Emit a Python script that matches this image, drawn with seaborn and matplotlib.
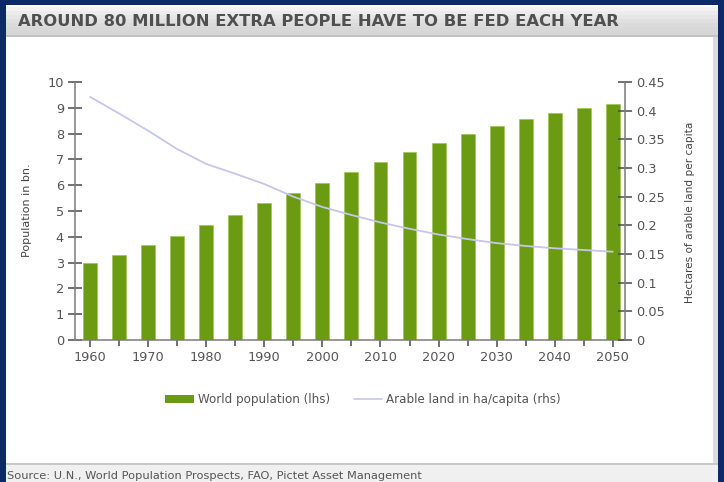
import matplotlib
matplotlib.use("Agg")
import matplotlib.pyplot as plt
import seaborn as sns
import numpy as np
import pandas as pd
from matplotlib.patches import Rectangle
from matplotlib.lines import Line2D
from matplotlib.ticker import FixedLocator

years = [1960, 1965, 1970, 1975, 1980, 1985, 1990, 1995, 2000, 2005,
         2010, 2015, 2020, 2025, 2030, 2035, 2040, 2045, 2050]
population_bn = [3.0, 3.3, 3.7, 4.05, 4.45, 4.85, 5.3, 5.7, 6.1, 6.5,
                 6.9, 7.3, 7.65, 8.0, 8.3, 8.55, 8.8, 9.0, 9.15]
arable_ha = [0.424, 0.395, 0.365, 0.333, 0.307, 0.290, 0.272, 0.250, 0.232, 0.218,
             0.205, 0.194, 0.184, 0.176, 0.169, 0.164, 0.160, 0.157, 0.154]
left_ticks = list(range(0, 11))
right_ticks = [0, 0.05, 0.1, 0.15, 0.2, 0.25, 0.3, 0.35, 0.4, 0.45]
right_labels = ["0", "0.05", "0.1", "0.15", "0.2", "0.25", "0.3", "0.35", "0.4", "0.45"]
x_labels = [1960, 1970, 1980, 1990, 2000, 2010, 2020, 2030, 2040, 2050]

title = "AROUND 80 MILLION EXTRA PEOPLE HAVE TO BE FED EACH YEAR"
source = "Source: U.N., World Population Prospects, FAO, Pictet Asset Management"

sns.set_theme(style="white")
plt.rcParams['font.family'] = ['DejaVu Sans']

W, H = 724, 482
fig = plt.figure(figsize=(W / 100, H / 100), dpi=100)
fig.patch.set_facecolor("white")

def frect(x0, y0, x1, y1, color, z=0):
    fig.add_artist(Rectangle((x0 / W, 1 - y1 / H), (x1 - x0) / W, (y1 - y0) / H,
                             transform=fig.transFigure, facecolor=color,
                             edgecolor="none", zorder=z))

navy = "#0b2a66"
frect(0, 0, W, H, navy, -5)
frect(6, 5, 718, H, "white", -4)
# title band (light gradient)
band_cols = ["#f2f2f2", "#ececec", "#e6e6e6", "#e0e0e0", "#dbdbdb", "#d8d8d8", "#d6d6d6"]
y0 = 7
step = 28 / len(band_cols)
for i, c in enumerate(band_cols):
    frect(6, y0 + i * step, 718, y0 + (i + 1) * step + 0.5, c, -3)
frect(6, 35, 718, 37, "#c2c2c2", -3)
# bottom source strip
frect(6, 463, 718, H, "#f0f0f0", -3)
frect(6, 463, 718, 465, "#c8c8c8", -3)
# right grey edge
frect(713, 37, 718, 463, "#dcdcdc", -3)

fig.text(18 / W, 1 - 21.5 / H, title, fontsize=11.8, fontweight="bold",
         color="#505050", va="center", ha="left")
fig.text(7 / W, 1 - 476 / H, source, fontsize=8.2, color="#555555",
         va="center", ha="left")

ax = fig.add_axes([75 / W, 1 - 340 / H, 550 / W, 258 / H])
ax.set_facecolor("none")
df = pd.DataFrame({"year": years, "pop": population_bn, "land": arable_ha})

green = "#6b9b12"
sns.barplot(data=df, x="year", y="pop", native_scale=True, width=0.48,
            color=green, saturation=1, ax=ax, edgecolor="#9cc24a", linewidth=0.4,
            label="World population (lhs)")
ax.set_xlim(1957.4, 2052.1)
ax.set_ylim(0, 10)
ax.yaxis.set_major_locator(FixedLocator(left_ticks))
ax.xaxis.set_major_locator(FixedLocator(x_labels))
ax.xaxis.set_minor_locator(FixedLocator([y + 5 for y in x_labels[:-1]]))
ax.set_xticklabels([str(v) for v in x_labels])

ax2 = ax.twinx()
sns.lineplot(data=df, x="year", y="land", color="#c6c6ec", linewidth=1.3, ax=ax2,
             label="Arable land in ha/capita (rhs)", legend=False)
ax2.set_ylim(0, 0.45)
ax2.yaxis.set_major_locator(FixedLocator(right_ticks))
ax2.set_yticklabels(right_labels)
ax2.set_xlim(1957.4, 2052.1)

spine_c = "#7a7a7a"
for a in (ax, ax2):
    a.spines["top"].set_visible(False)
    for s in ("left", "right", "bottom"):
        a.spines[s].set_color(spine_c)
        a.spines[s].set_linewidth(1.1)
    a.set_xlabel("")
    a.set_ylabel("")
ax.spines["right"].set_visible(False)
ax2.spines["left"].set_visible(False)
ax2.spines["bottom"].set_visible(False)

tick_c = "#4a4a4a"
ax.tick_params(axis="both", which="major", direction="inout", length=10, width=1.1,
               color=tick_c, labelsize=9.3, labelcolor="#555555")
ax.tick_params(axis="x", which="minor", direction="inout", length=8, width=1.1,
               color=tick_c, bottom=True)
ax.tick_params(axis="y", left=True, pad=3)
ax.tick_params(axis="x", bottom=True, pad=3)
ax2.tick_params(axis="y", direction="inout", length=10, width=1.1, color=tick_c,
                labelsize=9.3, labelcolor="#555555", pad=3, right=True)

fig.text(27 / W, 1 - 210 / H, "Population in bn.", rotation=90, fontsize=8,
         color="#444444", va="center", ha="center")
fig.text(690 / W, 1 - 212 / H, "Hectares of arable land per capita", rotation=90,
         fontsize=7.6, color="#444444", va="center", ha="center")

handles = [Rectangle((0, 0), 1, 1, facecolor=green, edgecolor="none"),
           Line2D([0], [0], color="#c6c6ec", linewidth=1.2)]
fig.legend(handles, ["World population (lhs)", "Arable land in ha/capita (rhs)"],
           loc="center", bbox_to_anchor=(363 / W, 1 - 400 / H), ncol=2, frameon=False,
           fontsize=8.6, labelcolor="#555555", handlelength=2.4, handleheight=0.6,
           columnspacing=2.0, handletextpad=0.3)
if ax.get_legend() is not None:
    ax.get_legend().remove()

fig.savefig("out.png", dpi=100)
